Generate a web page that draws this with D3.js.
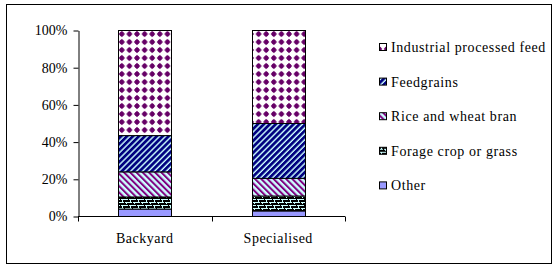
<!DOCTYPE html>
<html>
<head>
<meta charset="utf-8">
<script src="https://cdn.jsdelivr.net/npm/d3@7"></script>
<style>
  body { margin: 0; background: #fff; }
</style>
</head>
<body>
<div id="plot"></div>
<script>
// data (percent share of feed source)
var categories = ["Backyard", "Specialised"];
var seriesNames = ["Other", "Forage crop or grass", "Rice and wheat bran", "Feedgrains", "Industrial processed feed"];
var other      = [4, 3];
var forage     = [6.5, 8];
var riceBran   = [13.5, 9.5];
var feedgrains = [19.5, 29.5];
var industrial = [56.5, 50];
var yTicks = [0, 0.2, 0.4, 0.6, 0.8, 1];

var W = 557, H = 270;
var margin = {top: 30, left: 78, bottom: 54, right: 212};
var FONT = "'Liberation Serif', 'Times New Roman', 'DejaVu Serif', serif";

var rows = categories.map(function(c, i) {
  return {cat: c, "Other": other[i], "Forage crop or grass": forage[i],
    "Rice and wheat bran": riceBran[i], "Feedgrains": feedgrains[i],
    "Industrial processed feed": industrial[i]};
});

var svg = d3.select("#plot").append("svg")
  .attr("width", W).attr("height", H)
  .attr("font-family", FONT);

// patterns
var defs = svg.append("defs");

var p1 = defs.append("pattern").attr("id", "pat-ind")
  .attr("patternUnits", "userSpaceOnUse").attr("width", 7.6).attr("height", 8)
  .attr("x", 118).attr("y", 30);
p1.append("rect").attr("width", 7.6).attr("height", 8).attr("fill", "#fff");
p1.append("path").attr("d", "M3.8,0.8 L6.9,4 L3.8,7.2 L0.7,4 Z").attr("fill", "#660066");
p1.append("rect").attr("x", 2).attr("y", 2.2).attr("width", 3.6).attr("height", 3.6).attr("fill", "#660066");

var p2 = defs.append("pattern").attr("id", "pat-feed")
  .attr("patternUnits", "userSpaceOnUse").attr("width", 4.2).attr("height", 10)
  .attr("patternTransform", "rotate(45)");
p2.append("rect").attr("width", 4.2).attr("height", 10).attr("fill", "#ccffff");
p2.append("rect").attr("width", 2.8).attr("height", 10).attr("fill", "#000080");

var p3 = defs.append("pattern").attr("id", "pat-rice")
  .attr("patternUnits", "userSpaceOnUse").attr("width", 4.4).attr("height", 10)
  .attr("patternTransform", "rotate(-45)");
p3.append("rect").attr("width", 4.4).attr("height", 10).attr("fill", "#ccffff");
p3.append("rect").attr("width", 2).attr("height", 10).attr("fill", "#800080");

var p4 = defs.append("pattern").attr("id", "pat-forage")
  .attr("patternUnits", "userSpaceOnUse").attr("width", 8).attr("height", 6);
p4.append("rect").attr("width", 8).attr("height", 6).attr("fill", "#000");
p4.append("rect").attr("x", 1).attr("y", 1).attr("width", 7).attr("height", 1).attr("fill", "#ccffff");
p4.append("rect").attr("x", 0).attr("y", 4).attr("width", 4).attr("height", 1).attr("fill", "#ccffff");
p4.append("rect").attr("x", 5).attr("y", 4).attr("width", 3).attr("height", 1).attr("fill", "#ccffff");
p4.append("rect").attr("x", 2).attr("y", 2).attr("width", 1).attr("height", 2).attr("fill", "#ccffff");
p4.append("rect").attr("x", 6).attr("y", 5).attr("width", 1).attr("height", 1).attr("fill", "#ccffff");

var fills = {
  "Other": "#9999ff",
  "Forage crop or grass": "url(#pat-forage)",
  "Rice and wheat bran": "url(#pat-rice)",
  "Feedgrains": "url(#pat-feed)",
  "Industrial processed feed": "url(#pat-ind)"
};

// outer frame
svg.append("rect").attr("x", 6.5).attr("y", 4.5).attr("width", 545).attr("height", 259)
  .attr("fill", "none").attr("stroke", "#000");

var x = d3.scaleBand().domain(categories)
  .range([margin.left, 345]).paddingInner(0.6).paddingOuter(0.3);
var y = d3.scaleLinear().domain([0, 1]).range([H - margin.bottom, margin.top]);

var stack = d3.stack().keys(seriesNames).offset(d3.stackOffsetExpand);
var layers = stack(rows);

svg.append("g").selectAll("g")
  .data(layers).enter().append("g")
  .attr("fill", function(d) { return fills[d.key]; })
  .selectAll("rect")
  .data(function(d) { return d; })
  .enter().append("rect")
  .attr("x", function(d) { return Math.round(x(d.data.cat)) + 0.5; })
  .attr("y", function(d) { return y(d[1]) + 0.5; })
  .attr("width", Math.round(x.bandwidth()))
  .attr("height", function(d) { return y(d[0]) - y(d[1]); })
  .attr("stroke", "#000").attr("stroke-width", 1);

// y axis
var yAxis = svg.append("g")
  .attr("transform", "translate(" + (margin.left + 0.5) + ",0.5)")
  .call(d3.axisLeft(y).tickValues(yTicks).tickSize(5).tickSizeOuter(0)
    .tickFormat(d3.format(".0%")));
yAxis.attr("font-family", FONT);
yAxis.selectAll("text").style("font-size", "14px").attr("x", -11).attr("fill", "#000");
yAxis.selectAll("line, path").attr("stroke", "#000");

// x axis: line with ticks at category boundaries
var x0 = y(0) + 0.5;
svg.append("line").attr("x1", margin.left).attr("x2", 345)
  .attr("y1", x0).attr("y2", x0).attr("stroke", "#000");
var bounds = d3.range(categories.length + 1).map(function(i) { return margin.left + i * x.step(); });
svg.append("g").selectAll("line").data(bounds).enter().append("line")
  .attr("x1", function(d) { return Math.round(d) + 0.5; })
  .attr("x2", function(d) { return Math.round(d) + 0.5; })
  .attr("y1", x0).attr("y2", x0 + 5).attr("stroke", "#000");
svg.append("g").selectAll("text").data(categories).enter().append("text")
  .attr("x", function(d) { return x(d) + x.bandwidth() / 2; })
  .attr("y", 243)
  .attr("text-anchor", "middle").style("font-size", "14px")
  .style("letter-spacing", "0.5px")
  .text(function(d) { return d; });

// legend (top to bottom = reverse stack order)
var legendItems = seriesNames.slice().reverse();
var lg = svg.append("g").selectAll("g").data(legendItems).enter().append("g")
  .attr("transform", function(d, i) { return "translate(379," + (47 + i * 34.6) + ")"; });
lg.append("rect").attr("x", 0.5).attr("y", -3.5).attr("width", 7).attr("height", 7)
  .attr("fill", function(d) { return fills[d]; }).attr("stroke", "#000");
lg.append("text").attr("x", 12).attr("y", 5).style("font-size", "14px")
  .style("letter-spacing", "0.6px")
  .text(function(d) { return d; });
</script>
</body>
</html>
